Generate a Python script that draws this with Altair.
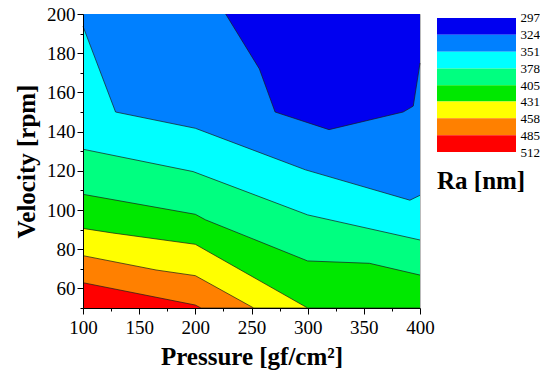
import altair as alt
import pandas as pd

# Contour level values (Ra, nm), top of legend to bottom
levels = [297, 324, 351, 378, 405, 431, 458, 485, 512]
# band colours, from the 297-324 band down to the 485-512 band
band_colors = ["#0000F0", "#0080FF", "#00FFFF", "#00FF80", "#00E800", "#FFFF00", "#FF8000", "#FF0000"]

# Lower edge of each band (pressure x, velocity y); every band extends up to 200 rpm
# and is painted over the bands below it.
band_485_x = [100, 400]
band_485_y = [50, 50]
band_458_x = [100, 200, 205, 400]
band_458_y = [62.9, 51.5, 50, 50]
band_431_x = [100, 165, 200, 252, 400]
band_431_y = [76.7, 69.4, 66.5, 50, 50]
band_405_x = [100, 126, 200, 300, 400]
band_405_y = [90.6, 88.3, 82.5, 50, 50]
band_378_x = [100, 200, 209, 300, 355, 400]
band_378_y = [108, 97.8, 95, 74, 72.8, 66.8]
band_351_x = [100, 198, 300, 400]
band_351_y = [131, 119.6, 97.5, 84.7]
band_324_x = [100, 129, 200, 298, 391, 400]
band_324_y = [193.7, 150, 141.7, 120.5, 105, 107.5]
band_297_x = [227, 257, 271, 319, 385, 394, 400]
band_297_y = [200, 172, 150, 141, 150, 153, 175]

bands = [  # painted in this order (bottom band first)
    ("485", band_485_x, band_485_y, band_colors[7]),
    ("458", band_458_x, band_458_y, band_colors[6]),
    ("431", band_431_x, band_431_y, band_colors[5]),
    ("405", band_405_x, band_405_y, band_colors[4]),
    ("378", band_378_x, band_378_y, band_colors[3]),
    ("351", band_351_x, band_351_y, band_colors[2]),
    ("324", band_324_x, band_324_y, band_colors[1]),
    ("297", band_297_x, band_297_y, band_colors[0]),
]

rows = []
for name, xs, ys, _ in bands:
    for xv, yv in zip(xs, ys):
        rows.append({"band": name, "pressure": xv, "velocity": yv})
df = pd.DataFrame(rows)

x_ticks = list(range(100, 401, 25))
y_ticks = list(range(50, 201, 10))

FONT = "Liberation Serif"

x_enc = alt.X(
    "pressure:Q",
    scale=alt.Scale(domain=[100, 400], nice=False, zero=False),
    axis=alt.Axis(
        title="Pressure [gf/cm²]",
        values=x_ticks,
        labelExpr="datum.value % 50 === 0 ? datum.label : ''",
        tickSize={"condition": {"test": "datum.value % 50 === 0", "value": 6}, "value": 3},
        grid=False, zindex=1, labelFlush=False,
        domainColor="black", tickColor="black", labelColor="black", titleColor="black",
        labelFont=FONT, labelFontSize=19, labelPadding=4, labelOverlap=False,
        titleFont=FONT, titleFontSize=25, titleFontWeight="bold", titlePadding=7,
    ),
)
y_enc = alt.Y(
    "velocity:Q",
    scale=alt.Scale(domain=[50, 200], nice=False, zero=False),
    axis=alt.Axis(
        title="Velocity [rpm]",
        values=y_ticks,
        labelExpr="datum.value % 20 === 0 ? datum.label : ''",
        tickSize={"condition": {"test": "datum.value % 20 === 0", "value": 6}, "value": 3},
        grid=False, zindex=1, labelFlush=False,
        domainColor="black", tickColor="black", labelColor="black", titleColor="black",
        labelFont=FONT, labelFontSize=19, labelPadding=2, labelOverlap=False,
        titleFont=FONT, titleFontSize=25, titleFontWeight="bold", titlePadding=7,
    ),
)

layers = []
for name, xs, ys, col in bands:
    mark = alt.Chart(df).transform_filter(alt.datum.band == name)
    if name == "485":
        m = mark.mark_area(color=col, opacity=1)
    else:
        m = mark.mark_area(color=col, opacity=1,
                           line={"color": "#1a1a1a", "strokeWidth": 0.7})
    layers.append(m.encode(x=x_enc, y=y_enc, y2=alt.datum(200)))

main = alt.layer(*layers).properties(width=337, height=294)

# legend colour bar
leg_df = pd.DataFrame({
    "lo": levels[:-1],
    "hi": levels[1:],
    "label": [str(v) for v in levels[:-1]],
})
legend = alt.Chart(leg_df).mark_rect().encode(
    y=alt.Y("lo:Q", scale=alt.Scale(domain=[290.6, 512], reverse=True, nice=False, zero=False),
            axis=alt.Axis(orient="right", values=levels, title=None, ticks=False, domain=False,
                          grid=False, labelFont=FONT, labelFontSize=13, labelColor="black",
                          labelPadding=4, labelOverlap=False, labelFlush=False)),
    y2="hi:Q",
    color=alt.Color("label:N", scale=alt.Scale(domain=[str(v) for v in levels[:-1]],
                                               range=band_colors), legend=None),
).properties(
    width=79, height=138,
    view=alt.ViewBackground(strokeOpacity=0),
    title=alt.TitleParams("Ra [nm]", orient="bottom", anchor="start", font=FONT,
                          fontSize=25, fontWeight="bold", color="black", offset=10),
)

chart = alt.hconcat(main, legend, spacing=17, bounds="flush").properties(
    padding={"left": 14, "top": 4, "right": 0, "bottom": 0},
    background="white",
).configure_view(stroke="#bbbbbb")

chart.save("out.html", embed_options={"renderer": "svg", "actions": False})
